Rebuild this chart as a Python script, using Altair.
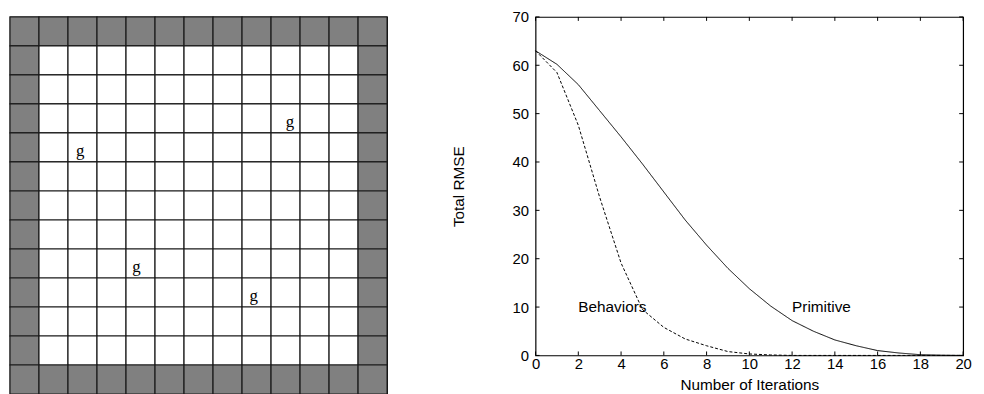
import altair as alt
import pandas as pd

# ---------------- data ----------------
grid_n = 13
goal_x = [9.65, 2.42, 4.36, 8.40]   # grid units from left
goal_y = [3.62, 4.64, 8.62, 9.62]   # grid units from top
goal_label = ["g", "g", "g", "g"]

iterations = list(range(21))
primitive = [63.0, 60.2, 56.0, 50.6, 45.2, 39.6, 33.8, 28.0, 22.8, 18.0,
             13.8, 10.2, 7.2, 5.0, 3.2, 2.0, 1.0, 0.5, 0.15, 0.05, 0.0]
behaviors = [63.0, 58.5, 47.6, 32.7, 19.1, 9.5, 5.8, 3.4, 2.0, 0.8,
             0.3, 0.1, 0.0, 0.0, 0.0, 0.0, 0.0, 0.0, 0.0, 0.0, 0.0]

x_ticks = list(range(0, 21, 2))
y_ticks = list(range(0, 71, 10))

label_text = ["Behaviors", "Primitive"]
label_x = [2.0, 12.0]
label_y = [10.0, 10.0]

# ---------------- left: grid world ----------------
cells = []
for r in range(grid_n):
    for c in range(grid_n):
        wall = r == 0 or c == 0 or r == grid_n - 1 or c == grid_n - 1
        cells.append({"c0": c, "c1": c + 1, "r0": r, "r1": r + 1,
                      "kind": "wall" if wall else "free"})
cells_df = pd.DataFrame(cells)

GW = 381
xs = alt.Scale(domain=[0, grid_n], nice=False, zero=False)
ys = alt.Scale(domain=[0, grid_n], nice=False, zero=False, reverse=True)

grid_rect = alt.Chart(cells_df).mark_rect(stroke="#1a1a1a", strokeWidth=1.2).encode(
    x=alt.X("c0:Q", scale=xs, axis=None),
    x2="c1:Q",
    y=alt.Y("r0:Q", scale=ys, axis=None),
    y2="r1:Q",
    color=alt.Color("kind:N", scale=alt.Scale(domain=["wall", "free"],
                                              range=["#808080", "#ffffff"]),
                    legend=None),
)

goals_df = pd.DataFrame({"gx": goal_x, "gy": goal_y, "t": goal_label})
goal_text = alt.Chart(goals_df).mark_text(
    font="Liberation Serif", fontSize=17, color="black", baseline="middle", align="center"
).encode(
    x=alt.X("gx:Q", scale=xs, axis=None),
    y=alt.Y("gy:Q", scale=ys, axis=None),
    text="t:N",
)

left = alt.layer(grid_rect, goal_text).properties(width=GW, height=GW)

# ---------------- right: RMSE curves ----------------
W, H = 432, 342
lines_df = pd.DataFrame({
    "iter": iterations * 2,
    "rmse": primitive + behaviors,
    "series": ["Primitive"] * len(iterations) + ["Behaviors"] * len(iterations),
})

rx = alt.Scale(domain=[0, 20], nice=False, zero=False)
ry = alt.Scale(domain=[0, 70], nice=False, zero=False)

FONT = "Liberation Sans"
FS = 15

lines = alt.Chart(lines_df).mark_line(color="black", strokeWidth=1).encode(
    x=alt.X("iter:Q", scale=rx,
            axis=alt.Axis(values=x_ticks, ticks=False, domain=False, grid=False,
                          title="Number of Iterations", labelFont=FONT, labelFontSize=FS,
                          labelColor="black", labelPadding=1, titleFont=FONT,
                          titleFontSize=15.5, titleFontWeight="normal", titleColor="black",
                          titlePadding=6, labelFlush=False)),
    y=alt.Y("rmse:Q", scale=ry,
            axis=alt.Axis(values=y_ticks, ticks=False, domain=False, grid=False,
                          title="Total RMSE", labelFont=FONT, labelFontSize=FS,
                          labelColor="black", labelPadding=7, titleFont=FONT,
                          titleFontSize=15.5, titleFontWeight="normal", titleColor="black",
                          titlePadding=46)),
    strokeDash=alt.StrokeDash("series:N",
                              scale=alt.Scale(domain=["Primitive", "Behaviors"],
                                              range=[[1, 0], [3, 2]]),
                              legend=None),
    detail="series:N",
)

xt_df = pd.DataFrame({"v": x_ticks})
yt_df = pd.DataFrame({"v": y_ticks})
TL = 4
tick_style = dict(color="black", strokeWidth=1)
xb = alt.Chart(xt_df).mark_rule(**tick_style).encode(
    x=alt.X("v:Q", scale=rx), y=alt.value(H), y2=alt.value(H - TL))
xtp = alt.Chart(xt_df).mark_rule(**tick_style).encode(
    x=alt.X("v:Q", scale=rx), y=alt.value(0), y2=alt.value(TL))
yl = alt.Chart(yt_df).mark_rule(**tick_style).encode(
    y=alt.Y("v:Q", scale=ry), x=alt.value(0), x2=alt.value(TL))
yr = alt.Chart(yt_df).mark_rule(**tick_style).encode(
    y=alt.Y("v:Q", scale=ry), x=alt.value(W - TL), x2=alt.value(W))

lab_df = pd.DataFrame({"lx": label_x, "ly": label_y, "t": label_text})
labels = alt.Chart(lab_df).mark_text(
    font=FONT, fontSize=15.5, color="black", align="left", baseline="middle"
).encode(
    x=alt.X("lx:Q", scale=rx), y=alt.Y("ly:Q", scale=ry), text="t:N")

right = alt.layer(lines, xb, xtp, yl, yr, labels).properties(width=W, height=H)

chart = alt.hconcat(left, right, spacing=62).properties(
    padding={"left": 0, "top": -1, "right": 4, "bottom": 0}
).configure_view(stroke="black", strokeWidth=1.2)

chart.save("out.html", embed_options={"renderer": "svg", "actions": False})
